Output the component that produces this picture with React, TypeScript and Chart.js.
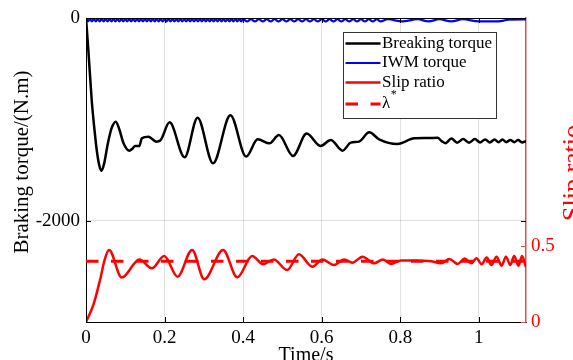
import React, { useEffect, useRef } from 'react';
import { Chart, registerables } from 'chart.js';

Chart.register(...registerables);

// ---- tick values ----
const X_TICKS = [0, 0.2, 0.4, 0.6, 0.8, 1];
const Y_LEFT_TICKS = [-2000, 0];
const Y_RIGHT_TICKS = [0, 0.5];

// ---- labels ----
const X_TITLE = 'Time/s';
const Y_LEFT_TITLE = 'Braking torque/(N.m)';
const Y_RIGHT_TITLE = 'Slip ratio';
const SERIES_LABELS = ['Breaking torque', 'IWM torque', 'Slip ratio', 'λ*'];

// ---- Breaking torque (left axis) ----
const brakeT = [0, 0.006, 0.0145, 0.0215, 0.0273, 0.033, 0.039, 0.046, 0.055, 0.065, 0.0758, 0.085, 0.095, 0.1106, 0.118, 0.125, 0.136, 0.142, 0.159, 0.172, 0.179, 0.189, 0.2127, 0.251, 0.284, 0.3234, 0.3676, 0.4077, 0.437, 0.467, 0.491, 0.527, 0.5617, 0.597, 0.623, 0.653, 0.674, 0.695, 0.721, 0.746, 0.793, 0.836, 0.87, 0.895, 0.905, 0.915, 0.93, 0.945, 0.96, 0.975, 0.99, 1.003, 1.016, 1.028, 1.04, 1.05, 1.06, 1.07, 1.08, 1.09, 1.1, 1.11, 1.12];
const brakeV = [0, -320, -809, -1100, -1303, -1440, -1507, -1440, -1250, -1090, -1023, -1100, -1230, -1309, -1290, -1263, -1262, -1187, -1171, -1205, -1220, -1210, -1030, -1375, -984, -1434, -960, -1368, -1197, -1237, -1155, -1362, -1140, -1263, -1204, -1309, -1230, -1220, -1128, -1197, -1243, -1187, -1185, -1181, -1215, -1235, -1190, -1230, -1195, -1230, -1195, -1228, -1198, -1228, -1200, -1225, -1200, -1225, -1203, -1225, -1205, -1228, -1215];

// ---- IWM torque (left axis) ----
const iwmFastStep = 0.005; // samples from t = 0
const iwmFastV = [0, -34, -10, -34, -10, -34, -10, -34, -10, -34, -10, -34, -10, -34, -10, -34, -10, -34, -10, -34, -10, -34, -10, -34, -10, -34, -10, -34, -10, -34, -10, -34, -10, -34, -10, -34, -10, -34, -10, -34, -10, -34, -10, -34, -10, -34, -10, -34, -10, -34, -10, -34, -10, -34, -10, -34, -10, -34, -10, -34, -10, -34, -10, -34, -10, -34, -10, -34, -10, -34, -10, -34, -10, -34, -10, -34, -10, -34, -10, -34, -10];
const iwmMidStart = 0.41;
const iwmMidStep = 0.01;
const iwmMidV = [-34, -12, -34, -12, -34, -12, -34, -12, -34, -12, -34, -12, -34, -12, -34, -12, -34, -12, -34, -12, -34, -12, -34, -12, -34, -12, -34, -12, -34, -12, -34, -12, -34, -12, -34];
const iwmSlowT = [0.768, 0.805, 0.844, 0.872, 0.899, 0.93, 0.959, 1.0, 1.04, 1.06, 1.075, 1.12];
const iwmSlowV = [-12, -34, -12, -34, -12, -34, -12, -34, -34, -28, -16, -14];

// ---- Slip ratio (right axis) ----
const slipT = [0, 0.0187, 0.0357, 0.0485, 0.0587, 0.091, 0.136, 0.1676, 0.199, 0.233, 0.27, 0.301, 0.349, 0.385, 0.423, 0.451, 0.478, 0.512, 0.542, 0.576, 0.602, 0.631, 0.657, 0.678, 0.704, 0.733, 0.756, 0.776, 0.802, 0.84, 0.878, 0.904, 0.925, 0.946, 0.964, 0.981, 0.994, 1.007, 1.02, 1.032, 1.045, 1.058, 1.069, 1.08, 1.09, 1.101, 1.11, 1.12];
const slipV = [0, 0.112, 0.276, 0.419, 0.474, 0.292, 0.412, 0.353, 0.434, 0.298, 0.474, 0.281, 0.474, 0.294, 0.434, 0.38, 0.412, 0.342, 0.445, 0.364, 0.412, 0.375, 0.412, 0.39, 0.43, 0.386, 0.412, 0.382, 0.405, 0.405, 0.4, 0.386, 0.414, 0.382, 0.418, 0.386, 0.42, 0.38, 0.425, 0.375, 0.43, 0.37, 0.43, 0.375, 0.435, 0.37, 0.435, 0.36];

// ---- λ* reference (right axis) ----
const lambdaT = [0, 1.12];
const lambdaV = [0.4, 0.4];

const FONT = "'Liberation Serif', 'Times New Roman', serif";

function pts(t: number[], v: number[]) {
  return t.map((x, i) => ({ x, y: v[i] }));
}

function iwmPoints() {
  const out: { x: number; y: number }[] = [];
  iwmFastV.forEach((v, i) => out.push({ x: i * iwmFastStep, y: v }));
  iwmMidV.forEach((v, i) => out.push({ x: iwmMidStart + i * iwmMidStep, y: v }));
  iwmSlowT.forEach((t, i) => out.push({ x: t, y: iwmSlowV[i] }));
  return out;
}

const decorPlugin = {
  id: 'decor',
  afterDraw(chart: any) {
    const { ctx, chartArea: a, scales } = chart;
    ctx.save();
    // top frame line
    ctx.strokeStyle = '#000';
    ctx.lineWidth = 1;
    ctx.beginPath();
    ctx.moveTo(a.left, a.top + 0.5);
    ctx.lineTo(a.right, a.top + 0.5);
    ctx.stroke();
    // inward tick marks
    const tl = 5;
    ctx.beginPath();
    X_TICKS.forEach((v) => {
      const px = Math.round(scales.x.getPixelForValue(v)) + 0.5;
      ctx.moveTo(px, a.bottom);
      ctx.lineTo(px, a.bottom - tl);
      ctx.moveTo(px, a.top);
      ctx.lineTo(px, a.top + tl);
    });
    Y_LEFT_TICKS.forEach((v) => {
      const py = Math.round(scales.y.getPixelForValue(v)) + 0.5;
      ctx.moveTo(a.left, py);
      ctx.lineTo(a.left + tl, py);
      ctx.moveTo(a.right, py);
      ctx.lineTo(a.right - tl, py);
    });
    ctx.stroke();
    ctx.strokeStyle = 'rgb(215,80,80)';
    ctx.beginPath();
    Y_RIGHT_TICKS.forEach((v) => {
      const py = Math.round(scales.y2.getPixelForValue(v)) + 0.5;
      ctx.moveTo(a.right, py);
      ctx.lineTo(a.right - tl, py);
    });
    ctx.stroke();

    // axis titles
    ctx.fillStyle = '#000';
    ctx.textAlign = 'center';
    ctx.textBaseline = 'alphabetic';
    ctx.font = `21px ${FONT}`;
    ctx.save();
    ctx.translate(28, 162);
    ctx.rotate(-Math.PI / 2);
    ctx.fillText(Y_LEFT_TITLE, 0, 0);
    ctx.restore();

    ctx.font = `20px ${FONT}`;
    ctx.fillText(X_TITLE, (a.left + a.right) / 2, 361);

    ctx.fillStyle = '#ff0000';
    ctx.font = `26px ${FONT}`;
    ctx.save();
    ctx.translate(580, 173);
    ctx.rotate(-Math.PI / 2);
    ctx.fillText(Y_RIGHT_TITLE, 0, 0);
    ctx.restore();

    // legend
    const bx = a.right - 182.5;
    const by = a.top + 14.5;
    const bw = 153;
    const bh = 86;
    ctx.fillStyle = '#fff';
    ctx.fillRect(bx, by, bw, bh);
    ctx.strokeStyle = '#333';
    ctx.lineWidth = 1;
    ctx.strokeRect(bx, by, bw, bh);
    const rows = [43.5, 63, 82.5, 104];
    chart.data.datasets.forEach((ds: any, i: number) => {
      const y = rows[i];
      ctx.save();
      ctx.strokeStyle = ds.borderColor;
      ctx.lineWidth = ds.borderWidth;
      ctx.setLineDash(ds.borderDash || []);
      ctx.beginPath();
      ctx.moveTo(bx + 2, y);
      ctx.lineTo(bx + 37, y);
      ctx.stroke();
      ctx.restore();
      ctx.fillStyle = '#000';
      ctx.textAlign = 'left';
      ctx.textBaseline = 'middle';
      ctx.font = `17px ${FONT}`;
      const label: string = ds.label;
      if (label.endsWith('*')) {
        const base = label.slice(0, -1);
        ctx.fillText(base, bx + 38.5, y);
        const w = ctx.measureText(base).width;
        ctx.font = `12px ${FONT}`;
        ctx.fillText('*', bx + 39 + w, y - 9);
      } else {
        ctx.fillText(label, bx + 38.5, y);
      }
    });
    ctx.restore();
  },
};

export default function App() {
  const ref = useRef<HTMLCanvasElement | null>(null);
  useEffect(() => {
    if (!ref.current) return;
    Chart.defaults.font.family = FONT;
    const chart = new Chart(ref.current, {
      type: 'line',
      data: {
        datasets: [
          {
            label: SERIES_LABELS[0],
            data: pts(brakeT, brakeV),
            yAxisID: 'y',
            borderColor: '#000000',
            borderWidth: 2.5,
            pointRadius: 0,
            cubicInterpolationMode: 'monotone',
          },
          {
            label: SERIES_LABELS[1],
            data: iwmPoints(),
            yAxisID: 'y',
            borderColor: '#0000ff',
            borderWidth: 2.2,
            pointRadius: 0,
            cubicInterpolationMode: 'monotone',
          },
          {
            label: SERIES_LABELS[2],
            data: pts(slipT, slipV),
            yAxisID: 'y2',
            borderColor: '#ff0000',
            borderWidth: 2.5,
            pointRadius: 0,
            cubicInterpolationMode: 'monotone',
          },
          {
            label: SERIES_LABELS[3],
            data: pts(lambdaT, lambdaV),
            yAxisID: 'y2',
            borderColor: '#ff0000',
            borderWidth: 3,
            borderDash: [12.5, 12.5],
            pointRadius: 0,
          },
        ],
      } as any,
      options: {
        responsive: false,
        animation: false,
        events: [],
        layout: { padding: { top: 18, left: 0, right: 0, bottom: 0 } },
        plugins: { legend: { display: false }, tooltip: { enabled: false } },
        scales: {
          x: {
            type: 'linear',
            min: 0,
            max: 1.12,
            afterBuildTicks: (s: any) => {
              s.ticks = X_TICKS.map((value) => ({ value }));
            },
            afterFit: (s: any) => {
              s.height = 38;
            },
            ticks: {
              color: '#000',
              font: { size: 19, family: FONT },
              padding: 5,
              maxRotation: 0,
              autoSkip: false,
              callback: (v: any) => String(v),
            },
            grid: { color: 'rgba(0,0,0,0.12)', drawTicks: false },
            border: { color: '#000', width: 1 },
          },
          y: {
            type: 'linear',
            position: 'left',
            min: -3000,
            max: 0,
            afterBuildTicks: (s: any) => {
              s.ticks = Y_LEFT_TICKS.map((value) => ({ value }));
            },
            afterFit: (s: any) => {
              s.width = 86;
            },
            ticks: {
              color: '#000',
              font: { size: 19, family: FONT },
              padding: 6,
              callback: (v: any) => String(v),
            },
            grid: { color: 'rgba(0,0,0,0.12)', drawTicks: false },
            border: { color: '#000', width: 1 },
          },
          y2: {
            type: 'linear',
            position: 'right',
            min: 0,
            max: 2,
            afterBuildTicks: (s: any) => {
              s.ticks = Y_RIGHT_TICKS.map((value) => ({ value }));
            },
            afterFit: (s: any) => {
              s.width = 47;
            },
            ticks: {
              color: '#ff0000',
              font: { size: 19, family: FONT },
              padding: 5,
              callback: (v: any) => String(v),
            },
            grid: { display: false, drawTicks: false },
            border: { color: 'rgb(215,80,80)', width: 1.5 },
          },
        },
      } as any,
      plugins: [decorPlugin],
    });
    return () => chart.destroy();
  }, []);

  return (
    <div style={{ position: 'fixed', left: 0, top: 0, width: 573, height: 360, background: '#fff' }}>
      <canvas ref={ref} width={573} height={360} style={{ display: 'block', width: 573, height: 360 }} />
    </div>
  );
}
